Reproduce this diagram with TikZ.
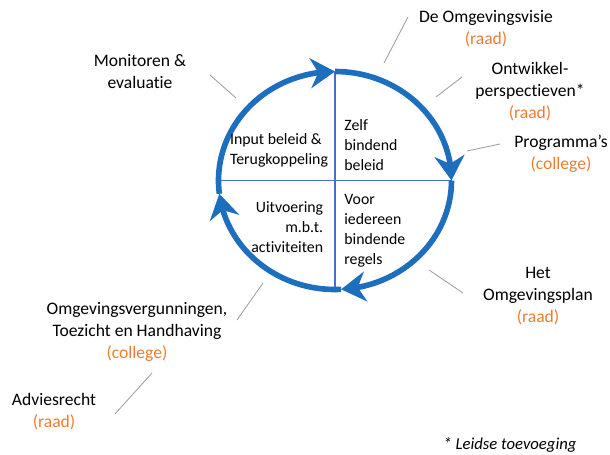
\documentclass[tikz,border=0pt]{standalone}
\usepackage{fontspec}
\setmainfont{Carlito}[Ligatures=NoCommon]
\usetikzlibrary{arrows.meta,bending}
\definecolor{cycleblue}{RGB}{30,110,190}
\definecolor{crossblue}{RGB}{72,114,192}
\definecolor{orgorange}{RGB}{237,125,49}
\definecolor{pointergray}{RGB}{160,160,160}
\newcommand\orgaan[1]{\textcolor{orgorange}{(#1)}}
\tikzset{
  cycleline/.style={cycleblue, line width=3.2pt, -{Stealth[length=14pt, width=17pt, inset=4.5pt]}},
  crossline/.style={crossblue, line width=1.1pt},
  pointer/.style={pointergray, line width=0.5pt},
  quadtext/.style={font=\fontsize{9}{11.3}\selectfont, inner sep=0pt},
  outertext/.style={font=\fontsize{10}{12.5}\selectfont, align=center, inner sep=0pt}
}
\begin{document}
\begin{tikzpicture}
\useasboundingbox (0,0) rectangle (12.2,9.08);
\coordinate (hub) at (6.7,5.47);
\draw[crossline] (6.7,7.65) -- (6.7,3.29);
\draw[crossline] (4.37,5.47) -- (9.03,5.47);
\draw[cycleline] ([shift={(187:2.33 and 2.18)}]hub) arc[start angle=187, end angle=90, x radius=2.33, y radius=2.18];
\draw[cycleline] ([shift={(90:2.33 and 2.18)}]hub) arc[start angle=90, end angle=0, x radius=2.33, y radius=2.18];
\draw[cycleline] ([shift={(0:2.33 and 2.18)}]hub) arc[start angle=0, end angle=-87, x radius=2.33, y radius=2.18];
\draw[cycleline] ([shift={(-87:2.33 and 2.18)}]hub) arc[start angle=-87, end angle=-173, x radius=2.33, y radius=2.18];
\node[quadtext, align=left] (input) at (5.58,6.08) {Input beleid \&\\Terugkoppeling};
\node[quadtext, align=left, anchor=west] (zelf) at (6.88,6.18) {Zelf\\bindend\\beleid};
\node[quadtext, align=right, anchor=east] (uitvoering) at (6.47,4.54) {Uitvoering\\m.b.t.\\activiteiten};
\node[quadtext, align=left, anchor=west] (regels) at (6.88,4.46) {Voor\\iedereen\\bindende\\regels};
\node[outertext] (visie) at (9.72,8.5) {De Omgevingsvisie\\\orgaan{raad}};
\node[outertext] (ontwikkel) at (10.6,7.24) {Ontwikkel-\\perspectieven*\\\orgaan{raad}};
\node[outertext] (programma) at (11.22,6.0) {Programma’s\\\orgaan{college}};
\node[outertext] (plan) at (10.76,3.16) {Het\\Omgevingsplan\\\orgaan{raad}};
\node[outertext] (monitor) at (2.8,7.64) {Monitoren \&\\evaluatie};
\node[outertext] (vergunning) at (2.74,2.44) {Omgevingsvergunningen,\\Toezicht en Handhaving\\\orgaan{college}};
\node[outertext] (advies) at (1.08,0.84) {Adviesrecht\\\orgaan{raad}};
\node[font=\fontsize{9.5}{11}\itshape, inner sep=0pt] (note) at (10.2,0.18) {* Leidse toevoeging};
\coordinate (visie-a) at (8.16,8.74);
\coordinate (visie-b) at (7.68,7.82);
\coordinate (ontwikkel-a) at (9.24,7.54);
\coordinate (ontwikkel-b) at (8.72,7.14);
\coordinate (programma-a) at (10.0,6.2);
\coordinate (programma-b) at (9.34,6.06);
\coordinate (plan-a) at (9.26,3.22);
\coordinate (plan-b) at (8.58,3.68);
\coordinate (monitor-a) at (4.2,7.58);
\coordinate (monitor-b) at (4.72,7.12);
\coordinate (vergunning-a) at (4.74,2.68);
\coordinate (vergunning-b) at (5.26,3.42);
\coordinate (advies-a) at (2.3,0.8);
\coordinate (advies-b) at (3.04,1.62);
\draw[pointer] (visie-a) -- (visie-b);
\draw[pointer] (ontwikkel-a) -- (ontwikkel-b);
\draw[pointer] (programma-a) -- (programma-b);
\draw[pointer] (plan-a) -- (plan-b);
\draw[pointer] (monitor-a) -- (monitor-b);
\draw[pointer] (vergunning-a) -- (vergunning-b);
\draw[pointer] (advies-a) -- (advies-b);
\end{tikzpicture}
\end{document}
